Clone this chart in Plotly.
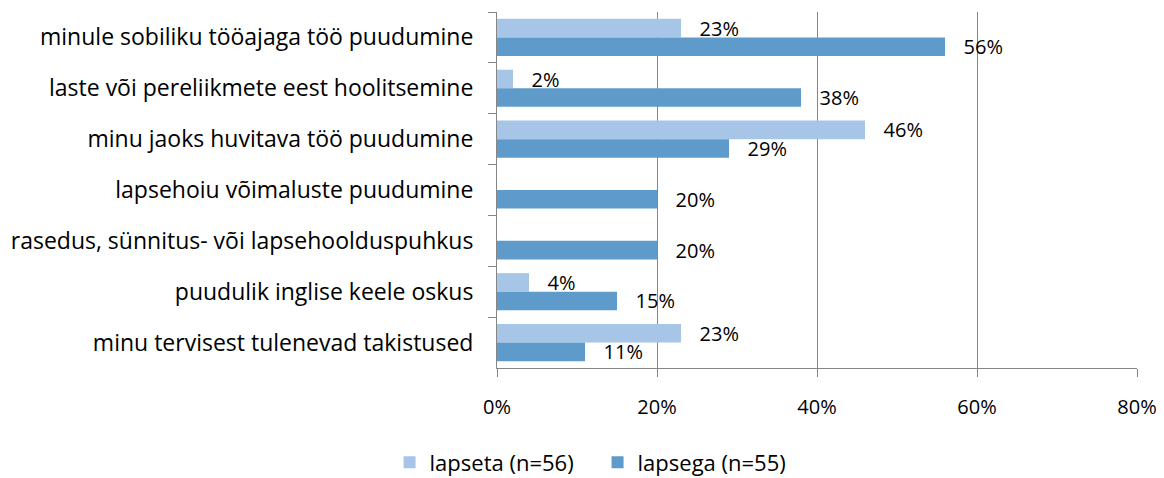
import plotly.graph_objects as go

categories = [
    "minule sobiliku tööajaga töö puudumine",
    "laste või pereliikmete eest hoolitsemine",
    "minu jaoks huvitava töö puudumine",
    "lapsehoiu võimaluste puudumine",
    "rasedus, sünnitus- või lapsehoolduspuhkus",
    "puudulik inglise keele oskus",
    "minu tervisest tulenevad takistused",
]
lapseta = [0.23, 0.02, 0.46, None, None, 0.04, 0.23]
lapsega = [0.56, 0.38, 0.29, 0.20, 0.20, 0.15, 0.11]

series = [
    ("lapseta (n=56)", lapseta, "#A7C5E6"),
    ("lapsega (n=55)", lapsega, "#5E9BCA"),
]

fig = go.Figure()
for name, vals, color in series:
    # leading spaces push the label away from the bar end, like the original
    labels = ["" if v is None else "   {:.0%}".format(v) for v in vals]
    fig.add_trace(go.Bar(
        y=categories, x=vals, name=name, orientation="h",
        marker=dict(color=color, line=dict(width=0)),
        text=labels, textposition="outside", cliponaxis=False,
        constraintext="none",
        textfont=dict(size=20, color="#000000"),
    ))

# the page body has an 8px margin, so the figure is 8px smaller than the window
fig.update_layout(
    width=1156, height=470,
    margin=dict(l=489, r=27, t=4, b=110),
    barmode="group", bargap=0.27, bargroupgap=0,
    plot_bgcolor="white", paper_bgcolor="white",
    font=dict(family="Open Sans", size=20, color="#000000"),
    showlegend=True,
    legend=dict(orientation="h", xref="container", yref="container",
                x=0.51, xanchor="center", y=0.033, yanchor="middle",
                font=dict(size=22), itemwidth=30, entrywidth=163),
)
fig.update_xaxes(
    range=[0, 0.8], dtick=0.2, tickformat=".0%",
    showgrid=True, gridcolor="#868686", gridwidth=1,
    showline=True, linecolor="#868686",
    ticks="outside", ticklen=8, tickcolor="#868686",
    ticklabelstandoff=13, tickfont=dict(size=20),
    zeroline=False, automargin=False,
)
fig.update_yaxes(
    autorange="reversed",
    showline=True, linecolor="#868686",
    ticks="outside", ticklen=8, tickcolor="#868686",
    tickson="boundaries", ticklabelstandoff=18,
    tickfont=dict(size=23), automargin=False,
)

fig.write_html("out.html")
